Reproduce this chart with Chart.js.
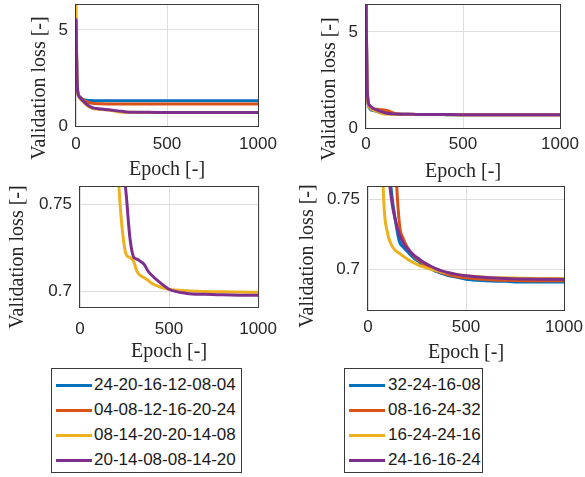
<!DOCTYPE html>
<html lang="en">
<head>
<meta charset="UTF-8">
<title>Validation loss vs. epoch</title>
<script src="https://cdn.jsdelivr.net/npm/chart.js"></script>
<style>
  body { margin: 0; width: 585px; height: 477px; position: relative; overflow: hidden; background: #fff;
         font-family: "Liberation Sans", Arial, sans-serif; }
  canvas { position: absolute; }
  .legend { position: absolute; border: 1px solid #3a3a3a; box-sizing: border-box; background: #fff; }
  .legend .swatch { position: absolute; height: 3px; }
  .legend .text { position: absolute; font-size: 17px; line-height: 20px; color: #1a1a1a; white-space: nowrap; }
</style>
</head>
<body>
<script>
  // epochs where the loss curves are sampled
  const epochs = [0, 5, 10, 20, 40, 60, 80, 100, 120, 140, 160, 180, 200, 220, 240, 260, 280, 300, 320, 340, 360, 380, 400, 450, 500, 600, 700, 800, 900, 1000];
  const epochTicks = [0, 500, 1000];
  const lossTicksFull = [0, 5];
  const lossTicksZoom = [0.7, 0.75];

  // left column: six-layer networks
  const labelsLeft = ['24-20-16-12-08-04', '04-08-12-16-20-24', '08-14-20-20-14-08', '20-14-08-08-14-20'];
  const lossL1 = [5.5, 2.6, 1.75, 1.52, 1.38, 1.34, 1.33, 1.32, 1.32, 1.32, 1.32, 1.32, 1.32, 1.32, 1.32, 1.32, 1.32, 1.32, 1.32, 1.32, 1.315, 1.315, 1.315, 1.315, 1.31, 1.31, 1.31, 1.31, 1.31, 1.31];
  const lossL2 = [5.4, 2.6, 1.75, 1.52, 1.35, 1.25, 1.2, 1.17, 1.16, 1.155, 1.15, 1.15, 1.15, 1.15, 1.15, 1.145, 1.145, 1.145, 1.145, 1.145, 1.14, 1.14, 1.14, 1.14, 1.14, 1.14, 1.14, 1.14, 1.14, 1.14];
  const lossL3 = [6.6, 2.5, 1.7, 1.45, 1.25, 1.08, 0.97, 0.9, 0.88, 0.86, 0.84, 0.82, 0.8, 0.758, 0.733, 0.721, 0.7195, 0.7175, 0.7115, 0.709, 0.7078, 0.7065, 0.7048, 0.7025, 0.7012, 0.7003, 0.6999, 0.6997, 0.6996, 0.6995];
  const lossL4 = [5.6, 2.6, 1.75, 1.5, 1.3, 1.12, 1.0, 0.93, 0.9, 0.88, 0.86, 0.84, 0.82, 0.8, 0.775, 0.755, 0.731, 0.72, 0.7185, 0.7172, 0.7155, 0.712, 0.7095, 0.705, 0.7012, 0.6988, 0.6983, 0.698, 0.6978, 0.6977];

  // right column: four-layer networks
  const labelsRight = ['32-24-16-08', '08-16-24-32', '16-24-24-16', '24-16-16-24'];
  const lossR1 = [6.8, 2.5, 1.35, 1.0, 0.9, 0.85, 0.82, 0.79, 0.755, 0.735, 0.72, 0.716, 0.713, 0.71, 0.7075, 0.7055, 0.7035, 0.702, 0.7005, 0.699, 0.698, 0.697, 0.696, 0.6945, 0.693, 0.692, 0.6915, 0.691, 0.691, 0.691];
  const lossR2 = [6.8, 2.6, 1.45, 1.15, 1.0, 0.97, 0.95, 0.93, 0.88, 0.78, 0.733, 0.722, 0.716, 0.712, 0.709, 0.7065, 0.7045, 0.7025, 0.701, 0.6995, 0.6985, 0.6975, 0.6965, 0.695, 0.694, 0.6928, 0.6922, 0.692, 0.692, 0.692];
  const lossR3 = [6.8, 2.5, 1.35, 1.05, 0.92, 0.85, 0.75, 0.726, 0.7175, 0.7135, 0.7115, 0.7095, 0.7075, 0.7058, 0.7043, 0.703, 0.702, 0.701, 0.7002, 0.6995, 0.6988, 0.6982, 0.6976, 0.6965, 0.6955, 0.6945, 0.694, 0.6937, 0.6936, 0.6935];
  const lossR4 = [6.9, 2.6, 1.45, 1.15, 1.0, 0.92, 0.85, 0.78, 0.75, 0.735, 0.725, 0.719, 0.715, 0.712, 0.7095, 0.7075, 0.7055, 0.7038, 0.7023, 0.701, 0.6998, 0.6988, 0.698, 0.6965, 0.6955, 0.6942, 0.6935, 0.6932, 0.693, 0.6929];

  const colors = ['#0072BD', '#D95319', '#EDB120', '#7E2F8E'];
  const tickFont = { family: 'Liberation Sans', size: 17 };
  const titleFont = { family: 'Liberation Serif', size: 20 };
  const textColor = '#262626';
  const gridColor = '#dedede';
  const axisW = 80, margin = 30;

  // box around the plot area and the rotated y title
  const framePlugin = {
    id: 'frame',
    afterDraw(chart, args, opts) {
      const { ctx, chartArea: ca } = chart;
      ctx.save();
      ctx.strokeStyle = '#3a3a3a';
      ctx.lineWidth = 1;
      ctx.strokeRect(ca.left - 0.5, ca.top - 0.5, ca.right - ca.left + 1, ca.bottom - ca.top + 1);
      ctx.translate(opts.x, opts.y);
      ctx.rotate(-Math.PI / 2);
      ctx.fillStyle = textColor;
      ctx.font = `${titleFont.size}px "${titleFont.family}"`;
      ctx.textAlign = 'center';
      ctx.textBaseline = 'middle';
      ctx.fillText('Validation loss [-]', 0, 0);
      ctx.restore();
    }
  };

  function panel(area, yMin, yMax, yTicks, losses, labels, yTitleAt, xTickPad, xTitleGap) {
    const xh = xTitleGap + 12;
    const left = area.l - axisW, top = area.t - margin;
    const w = area.r - area.l + axisW + margin, h = area.b - area.t + margin + xh;
    const canvas = document.createElement('canvas');
    canvas.width = w; canvas.height = h;
    Object.assign(canvas.style, { left: left + 'px', top: top + 'px', width: w + 'px', height: h + 'px' });
    document.body.appendChild(canvas);

    new Chart(canvas, {
      type: 'line',
      data: {
        datasets: losses.map((loss, i) => ({
          label: labels[i],
          data: epochs.map((e, k) => ({ x: e, y: loss[k] })),
          borderColor: colors[i],
          borderWidth: 3,
          pointRadius: 0,
          cubicInterpolationMode: 'monotone',
          clip: 0,
          order: losses.length - i
        }))
      },
      options: {
        responsive: false,
        animation: false,
        layout: { padding: { top: margin, right: margin, left: 0, bottom: 0 } },
        plugins: {
          legend: { display: false },
          tooltip: { enabled: false },
          frame: { x: yTitleAt[0] - left, y: yTitleAt[1] - top }
        },
        scales: {
          x: {
            type: 'linear', min: 0, max: 1000,
            afterBuildTicks: s => { s.ticks = epochTicks.map(v => ({ value: v })); },
            afterFit: s => { s.height = xh; },
            grid: { color: gridColor, drawTicks: false },
            border: { display: false },
            ticks: { padding: xTickPad, color: textColor, font: tickFont, maxRotation: 0, autoSkip: false, callback: v => String(v) },
            title: { display: true, text: 'Epoch [-]', color: textColor, font: titleFont, padding: 0 }
          },
          y: {
            min: yMin, max: yMax,
            afterBuildTicks: s => { s.ticks = yTicks.map(v => ({ value: v })); },
            afterFit: s => { s.width = axisW; },
            grid: { color: gridColor, drawTicks: false },
            border: { display: false },
            ticks: { padding: 8, color: textColor, font: tickFont, callback: v => String(v) }
          }
        }
      },
      plugins: [framePlugin]
    });
  }

  function legend(box, labels, lineX, textX) {
    const div = document.createElement('div');
    div.className = 'legend';
    Object.assign(div.style, { left: box.l + 'px', top: box.t + 'px', width: box.w + 'px', height: box.h + 'px' });
    labels.forEach((label, i) => {
      const cy = 16 + i * 25;
      const sw = document.createElement('div');
      sw.className = 'swatch';
      Object.assign(sw.style, { left: lineX[0] + 'px', width: (lineX[1] - lineX[0]) + 'px', top: (cy - 1.5) + 'px', background: colors[i] });
      const tx = document.createElement('div');
      tx.className = 'text';
      tx.textContent = label;
      Object.assign(tx.style, { left: textX + 'px', top: (cy - 10) + 'px' });
      div.append(sw, tx);
    });
    document.body.appendChild(div);
  }

  const seriesL = [lossL1, lossL2, lossL3, lossL4];
  const seriesR = [lossR1, lossR2, lossR3, lossR4];

  panel({ l: 76, t: 5, r: 258, b: 126 }, 0, 6.3, lossTicksFull, seriesL, labelsLeft, [40, 88], 8, 44);
  panel({ l: 366, t: 5, r: 560, b: 128 }, 0, 6.4, lossTicksFull, seriesR, labelsRight, [330, 89], 6, 44);
  panel({ l: 80, t: 187, r: 259, b: 307 }, 0.691, 0.76, lossTicksZoom, seriesL, labelsLeft, [18, 257], 12, 45);
  panel({ l: 368, t: 187, r: 564, b: 310 }, 0.671, 0.759, lossTicksZoom, seriesR, labelsRight, [308, 256], 7, 43);

  legend({ l: 51, t: 368, w: 191, h: 105 }, labelsLeft, [4, 40], 42);
  legend({ l: 344, t: 368, w: 139, h: 105 }, labelsRight, [4, 40], 43);
</script>
</body>
</html>
